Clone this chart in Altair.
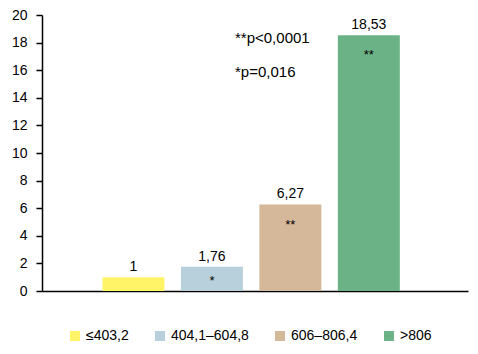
import altair as alt
import pandas as pd

groups = ["≤403,2", "404,1–604,8", "606–806,4", ">806"]
values = [1, 1.76, 6.27, 18.53]
value_labels = ["1", "1,76", "6,27", "18,53"]
stars = ["", "*", "**", "**"]
star_y = [0, 0.95, 5.0, 17.3]
colors = ["#FFF468", "#B8D0DC", "#D5B799", "#6BB386"]
notes = ["**p<0,0001", "*p=0,016"]
note_y = [18.3, 15.9]
y_ticks = list(range(0, 21, 2))

FONT = "Liberation Sans"

df = pd.DataFrame({"group": groups, "value": values, "label": value_labels,
                   "star": stars, "star_y": star_y})
notes_df = pd.DataFrame({"note": notes, "y": note_y})

x_enc = alt.X("group:N", sort=groups,
              scale=alt.Scale(paddingInner=0.21, paddingOuter=0.82, align=0.47),
              axis=alt.Axis(labels=False, ticks=False, title=None,
                            domainColor="black", domainWidth=1.5))
y_scale = alt.Scale(domain=[0, 20], nice=False, zero=True)
y_axis = alt.Axis(values=y_ticks, title=None, grid=False,
                  labelOverlap=False, labelFlush=False,
                  domainColor="black", domainWidth=1.5,
                  tickColor="black", tickSize=6, tickWidth=1.5,
                  labelColor="black", labelFontSize=14,
                  labelFont=FONT, labelPadding=9)

bars = alt.Chart(df).mark_bar().encode(
    x=x_enc,
    y=alt.Y("value:Q", scale=y_scale, axis=y_axis),
    color=alt.Color("group:N", sort=groups,
                    scale=alt.Scale(domain=groups, range=colors),
                    legend=alt.Legend(title=None, orient="none", direction="horizontal",
                                      legendX=26, legendY=314,
                                      symbolType="square", symbolSize=100,
                                      symbolStrokeWidth=0, labelFontSize=14,
                                      labelFont=FONT, labelColor="black",
                                      labelOffset=4, columnPadding=24)),
)

labels = alt.Chart(df).mark_text(baseline="alphabetic", dy=-6, fontSize=14,
                                  font=FONT, color="black").encode(
    x=x_enc,
    y=alt.Y("value:Q", scale=y_scale, axis=y_axis),
    text="label:N",
)

star_text = alt.Chart(df).mark_text(baseline="middle", dy=3, fontSize=13,
                                     font=FONT, color="black").encode(
    x=x_enc,
    y=alt.Y("star_y:Q", scale=y_scale, axis=y_axis),
    text="star:N",
)

note_text = alt.Chart(notes_df).mark_text(align="left", baseline="middle",
                                           fontSize=15, font=FONT, color="black").encode(
    x=alt.value(193),
    y=alt.Y("y:Q", scale=y_scale, axis=y_axis),
    text="note:N",
)

chart = alt.layer(bars, labels, star_text, note_text).properties(
    width=426, height=276,
    autosize=alt.AutoSizeParams(type="none"),
    padding={"left": 42, "top": 15, "right": 10, "bottom": 63},
    background="white",
).configure_view(stroke=None)

chart.save("out.html", embed_options={"renderer": "svg", "actions": False})
